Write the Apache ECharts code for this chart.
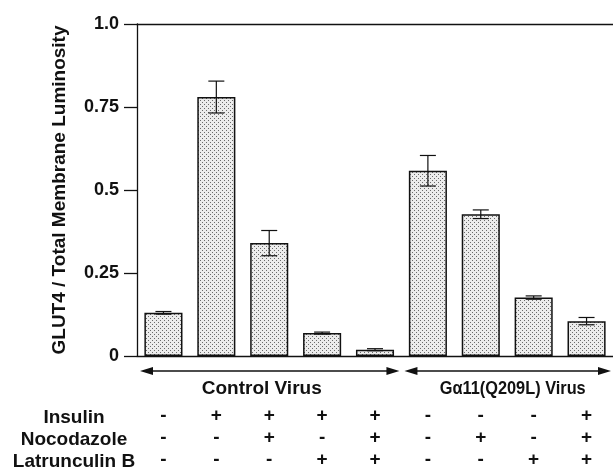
<!DOCTYPE html>
<html>
<head>
<meta charset="utf-8">
<script src="https://cdn.jsdelivr.net/npm/echarts@6/dist/echarts.min.js"></script>
<style>
  html, body { margin: 0; padding: 0; background: #fff; }
  #main { width: 613px; height: 471px; }
</style>
</head>
<body>
<div id="main"></div>
<script>
// data
var categories = ['1', '2', '3', '4', '5', '6', '7', '8', '9'];
var means = [0.13, 0.78, 0.34, 0.069, 0.019, 0.558, 0.427, 0.176, 0.105];
var errors = [0.004, 0.048, 0.038, 0.003, 0.003, 0.046, 0.013, 0.005, 0.011];
var insulin = ['-', '+', '+', '+', '+', '-', '-', '-', '+'];
var nocodazole = ['-', '-', '+', '-', '+', '-', '+', '-', '+'];
var latrunculin = ['-', '-', '-', '+', '+', '-', '-', '+', '+'];
var rowNames = ['Insulin', 'Nocodazole', 'Latrunculin B'];
var yTickLabels = ['0', '0.25', '0.5', '0.75', '1.0'];
var groupNames = ['Control Virus', 'G\u03b111(Q209L) Virus'];
var groupFrom = [0, 5];
var groupTo = [4, 8];

var FONT = '"Liberation Sans", Arial, Helvetica, sans-serif';
var INK = '#111';
// small nudges so the group titles sit where the printed ones do
var labelDx = [-8, 5];
var labelScale = [1, 0.86];

// stippled fill like the printed figure
var pat = document.createElement('canvas');
pat.width = 4; pat.height = 4;
var ctx = pat.getContext('2d');
ctx.fillStyle = '#ececec';
ctx.fillRect(0, 0, 4, 4);
ctx.fillStyle = '#6a6a6a';
ctx.fillRect(0, 0, 1, 1);
ctx.fillRect(2, 2, 1, 1);

var errData = [];
for (var i = 0; i < means.length; i++) {
  errData.push([i, means[i] - errors[i], means[i] + errors[i]]);
}
var groupData = [];
for (var g = 0; g < groupNames.length; g++) {
  groupData.push([groupFrom[g], groupTo[g], 0]);
}

var myChart = echarts.init(document.getElementById('main'));

var option = {
  backgroundColor: '#ffffff',
  animation: false,
  textStyle: { fontFamily: FONT },
  grid: { left: 137, right: 0, top: 24, bottom: 113 },
  xAxis: [{
    type: 'category',
    data: categories,
    position: 'bottom',
    axisLine: { lineStyle: { color: INK, width: 1.3 } },
    axisTick: { show: false },
    axisLabel: {
      margin: 49,
      fontSize: 19,
      fontWeight: 'bold',
      color: INK,
      lineHeight: 22,
      fontFamily: FONT,
      formatter: function (v, idx) {
        return [insulin[idx], nocodazole[idx], latrunculin[idx]].join('\n');
      }
    }
  }, {
    type: 'category',
    data: categories,
    position: 'top',
    axisLine: { lineStyle: { color: INK, width: 1.3 } },
    axisTick: { show: false },
    axisLabel: { show: false }
  }],
  yAxis: {
    type: 'value',
    min: 0,
    max: 1,
    interval: 0.25,
    name: 'GLUT4 / Total Membrane Luminosity',
    nameLocation: 'middle',
    nameGap: 68,
    nameTextStyle: { fontSize: 19, fontWeight: 'bold', color: INK, fontFamily: FONT },
    axisLine: { show: true, lineStyle: { color: INK, width: 1.3 } },
    axisTick: { show: true, length: 13, lineStyle: { color: INK, width: 1.3 } },
    splitLine: { show: false },
    axisLabel: {
      margin: 18,
      fontSize: 18,
      fontWeight: 'bold',
      color: INK,
      fontFamily: FONT,
      formatter: function (v, idx) { return yTickLabels[idx]; }
    }
  },
  graphic: rowNames.map(function (name, k) {
    return {
      type: 'text',
      x: 74,
      y: 418 + k * 22,
      style: {
        text: name,
        x: 0, y: 0,
        align: 'center',
        verticalAlign: 'middle',
        font: 'bold 19px ' + FONT,
        fill: INK
      }
    };
  }),
  series: [{
    name: 'mean',
    type: 'bar',
    barWidth: '72%',
    data: means,
    itemStyle: {
      color: { image: pat, repeat: 'repeat' },
      borderColor: INK,
      borderWidth: 1.5
    }
  }, {
    name: 'sem',
    type: 'custom',
    z: 5,
    data: errData,
    encode: { x: 0, y: [1, 2] },
    renderItem: function (params, api) {
      var lo = api.coord([api.value(0), api.value(1)]);
      var hi = api.coord([api.value(0), api.value(2)]);
      var x = lo[0], half = 8;
      var st = { stroke: INK, lineWidth: 1.2 };
      return {
        type: 'group',
        children: [
          { type: 'line', shape: { x1: x, y1: hi[1], x2: x, y2: lo[1] }, style: st },
          { type: 'line', shape: { x1: x - half, y1: hi[1], x2: x + half, y2: hi[1] }, style: st },
          { type: 'line', shape: { x1: x - half, y1: lo[1], x2: x + half, y2: lo[1] }, style: st }
        ]
      };
    }
  }, {
    name: 'groups',
    type: 'custom',
    clip: false,
    silent: true,
    data: groupData,
    encode: { x: [0, 1], y: 2 },
    renderItem: function (params, api) {
      var k = params.dataIndex;
      var band = api.size([1, 0])[0];
      var base = api.coord([api.value(0), 0]);
      var x0 = base[0] - band / 2 + 3;
      var x1 = api.coord([api.value(1), 0])[0] + band / 2 - 2;
      var y = base[1] + 15;
      return {
        type: 'group',
        children: [
          { type: 'line', shape: { x1: x0 + 8, y1: y, x2: x1 - 8, y2: y }, style: { stroke: INK, lineWidth: 1.5 } },
          { type: 'polygon', shape: { points: [[x0, y], [x0 + 13, y - 4], [x0 + 13, y + 4]] }, style: { fill: INK } },
          { type: 'polygon', shape: { points: [[x1, y], [x1 - 13, y - 4], [x1 - 13, y + 4]] }, style: { fill: INK } },
          {
            type: 'text',
            x: (x0 + x1) / 2 + labelDx[k],
            y: y + 18,
            scaleX: labelScale[k],
            style: {
              text: groupNames[k],
              x: 0, y: 0,
              align: 'center', verticalAlign: 'middle',
              font: 'bold 19px ' + FONT,
              fill: INK
            }
          }
        ]
      };
    }
  }]
};

myChart.setOption(option);
</script>
</body>
</html>
